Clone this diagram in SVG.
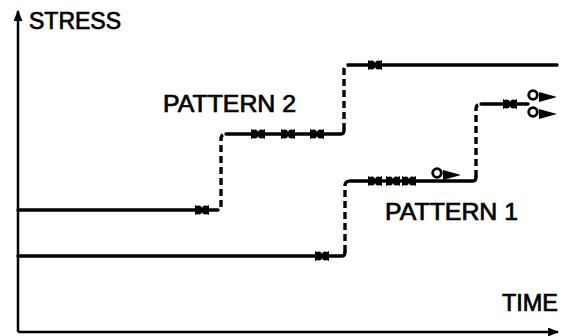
<svg xmlns="http://www.w3.org/2000/svg" width="566" height="336" viewBox="0 0 566 336">
<style>
.solid{fill:none;stroke:#000;stroke-width:3.4;stroke-linecap:round;stroke-linejoin:round}
.dash{fill:none;stroke:#000;stroke-width:3.4;stroke-dasharray:7 4}
.axis{fill:none;stroke:#000;stroke-width:2.5}
.lbl{font-family:"Liberation Sans",Arial,sans-serif;font-size:23px;fill:#000;stroke:#000;stroke-width:0.7}
</style>
<defs>
<g id="mk"><path d="M-7,-5 Q-3,-3 0,-1.5 Q3,-3 7,-5 L7,5 Q3,3 0,1.5 Q-3,3 -7,5 Z" fill="#000"/><ellipse cx="-3.2" cy="0" rx="3.4" ry="4.6" fill="#000"/><ellipse cx="3.2" cy="0" rx="3.4" ry="4.6" fill="#000"/></g>
<g id="cut"><circle cx="0" cy="-5" r="4.3" fill="#fff" stroke="#000" stroke-width="2.8"/><path d="M6,-8 L24,-3 L6,2 Z" fill="#000"/></g>
<marker id="ah" markerWidth="11" markerHeight="9" refX="10" refY="4.5" orient="auto" markerUnits="userSpaceOnUse"><path d="M0,0 L11,4.5 L0,9 Z" fill="#000"/></marker>
</defs>
<g id="axes">
<path class="axis" d="M18,332 V11" marker-end="url(#ah)"/>
<path class="axis" d="M18,332 H558" marker-end="url(#ah)"/>
<text class="lbl" x="29" y="29" textLength="92" lengthAdjust="spacingAndGlyphs">STRESS</text>
<text class="lbl" x="502" y="311" textLength="56" lengthAdjust="spacingAndGlyphs">TIME</text>
</g>
<g id="pattern2">
<path class="solid" d="M18,210 H218"/>
<path class="dash" d="M221,207 V139 Q221,134 226,134"/>
<path class="solid" d="M226,134 H341 Q344,134 344,130"/>
<path class="dash" d="M344,130 V69 Q344,65 349,65"/>
<path class="solid" d="M349,65 H557"/>
<use href="#mk" x="202" y="210"/>
<use href="#mk" x="258" y="134"/>
<use href="#mk" x="288" y="134"/>
<use href="#mk" x="317" y="134"/>
<use href="#mk" x="375" y="65"/>
<text class="lbl" x="163" y="112" textLength="133" lengthAdjust="spacingAndGlyphs">PATTERN 2</text>
</g>
<g id="pattern1">
<path class="solid" d="M18,256 H342 Q345,256 345,252"/>
<path class="dash" d="M345,252 V186 Q345,181 350,181"/>
<path class="solid" d="M350,181 H473 Q476,181 476,177"/>
<path class="dash" d="M476,177 V109 Q476,104 481,104"/>
<path class="solid" d="M481,104 H528"/>
<use href="#mk" x="322" y="256"/>
<use href="#mk" x="375" y="181"/>
<use href="#mk" x="393" y="181"/>
<use href="#mk" x="409" y="181"/>
<use href="#cut" x="437" y="178"/>
<use href="#mk" x="510" y="104"/>
<use href="#cut" x="533" y="100"/>
<use href="#cut" x="533" y="117"/>
<text class="lbl" x="385" y="220" textLength="133" lengthAdjust="spacingAndGlyphs">PATTERN 1</text>
</g>
</svg>
